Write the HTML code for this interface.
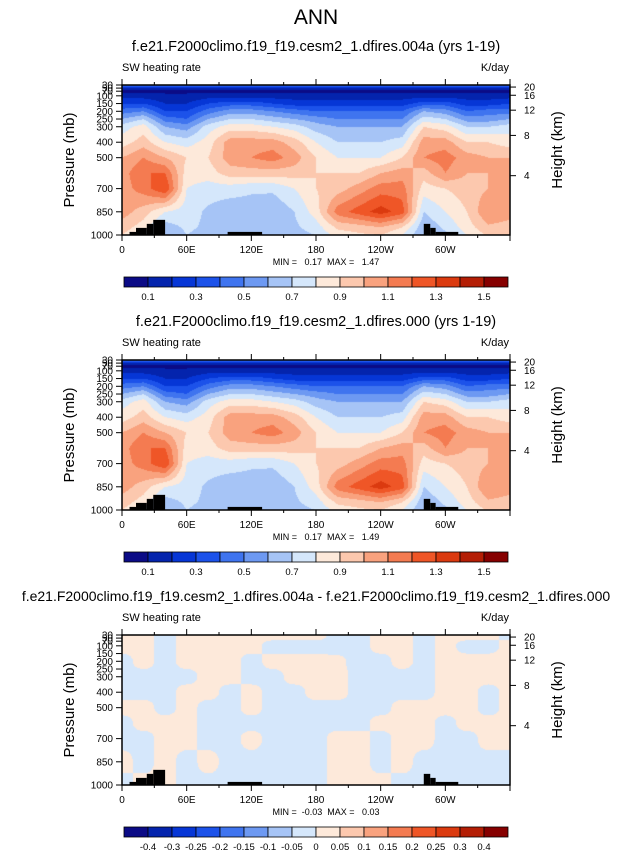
<!DOCTYPE html>
<html><head><meta charset="utf-8">
<style>
html,body{margin:0;padding:0;background:#fff;}
body{width:632px;height:851px;position:relative;overflow:hidden;font-family:"Liberation Sans",sans-serif;}
svg{position:absolute;left:0;top:0;}
canvas{position:absolute;}
text{white-space:pre;}
</style></head>
<body>
<canvas id="c0" width="388" height="150" style="left:122px;top:85px"></canvas>
<canvas id="c1" width="388" height="150" style="left:122px;top:360px"></canvas>
<canvas id="c2" width="388" height="150" style="left:122px;top:635px"></canvas>
<svg id="svg" width="632" height="851"></svg>
<script>
// ---- data ----
const lons = [0,20,40,60,80,100,120,140,160,180,200,220,240,260,280,300,320,340,360];
const plevs = [30,50,70,100,150,200,250,300,400,500,600,700,850,950,1000];
// columns per longitude: values at plevs (K/day)
const ctrlProfiles = [
 [0.45,0.15,0.08,0.15,0.30,0.45,0.60,0.75,0.85,1.00,1.05,1.05,1.05,0.95,0.90],
 [0.45,0.15,0.08,0.15,0.30,0.50,0.70,0.85,0.95,1.10,1.20,1.15,0.95,0.85,0.80],
 [0.45,0.15,0.08,0.12,0.20,0.30,0.45,0.60,0.80,1.00,1.20,1.30,0.80,0.65,0.60],
 [0.45,0.15,0.08,0.12,0.20,0.30,0.40,0.55,0.75,0.90,0.85,0.80,0.75,0.72,0.70],
 [0.45,0.15,0.08,0.15,0.30,0.45,0.60,0.75,0.85,0.90,0.85,0.75,0.68,0.68,0.66],
 [0.45,0.15,0.08,0.15,0.35,0.55,0.70,0.85,1.05,1.05,0.95,0.75,0.63,0.66,0.66],
 [0.45,0.15,0.08,0.15,0.35,0.55,0.70,0.85,1.05,1.10,0.95,0.72,0.64,0.68,0.68],
 [0.45,0.15,0.08,0.15,0.30,0.50,0.65,0.80,1.05,1.15,0.95,0.72,0.62,0.65,0.65],
 [0.45,0.15,0.08,0.15,0.25,0.45,0.60,0.75,0.95,1.05,0.95,0.80,0.70,0.68,0.66],
 [0.45,0.15,0.08,0.15,0.25,0.40,0.55,0.65,0.80,0.90,0.90,0.90,0.85,0.75,0.70],
 [0.45,0.15,0.08,0.15,0.25,0.40,0.50,0.60,0.70,0.80,0.90,0.95,1.15,0.92,0.85],
 [0.45,0.15,0.08,0.15,0.25,0.40,0.50,0.60,0.70,0.80,0.90,1.05,1.25,0.95,0.88],
 [0.45,0.15,0.08,0.15,0.25,0.40,0.50,0.60,0.70,0.80,1.00,1.15,1.35,1.00,0.90],
 [0.45,0.15,0.08,0.15,0.25,0.40,0.50,0.60,0.75,0.90,1.05,1.15,1.25,0.90,0.80],
 [0.45,0.15,0.08,0.15,0.35,0.60,0.75,0.90,1.05,1.10,0.95,0.85,0.70,0.62,0.60],
 [0.45,0.15,0.08,0.15,0.35,0.55,0.70,0.85,1.05,1.15,1.10,0.90,0.80,0.72,0.68],
 [0.45,0.15,0.08,0.15,0.25,0.40,0.55,0.70,0.90,1.05,1.00,0.95,0.90,0.85,0.80],
 [0.45,0.15,0.08,0.15,0.25,0.45,0.55,0.70,0.90,1.00,1.00,1.00,1.10,0.98,0.92],
 [0.45,0.15,0.08,0.15,0.30,0.45,0.60,0.75,0.85,1.00,1.05,1.05,1.05,0.95,0.90]
];
const diffPlevs = [30,100,200,300,400,500,600,700,850,1000];
// rows per pressure level: difference values (K/day) at lons
const diffRows = [
 [ .02, .02,-.02, .02, .02, .02, .02, .02, .02, .02,-.02,-.02, .02, .02,-.02, .02, .02, .02,-.02],
 [ .02, .02,-.02, .02, .02, .02, .02,-.02,-.02,-.02,-.02,-.02, .02, .02,-.02, .02,-.02,-.02, .02],
 [-.02, .02,-.02, .02, .02, .02,-.02, .02, .02, .02, .01,-.02,-.02, .02,-.02, .02, .02, .02, .02],
 [-.02,-.02,-.02,-.02, .02, .02,-.02,-.02, .02, .02, .02,-.02,-.02,-.02,-.02, .02, .02, .02, .02],
 [-.02,-.02,-.02, .02, .02,-.02, .02,-.02,-.02, .02, .02,-.02,-.02,-.02,-.02, .02, .02,-.02, .02],
 [ .02, .02,-.02, .02,-.02,-.02, .02,-.02,-.02,-.02,-.02,-.02,-.02, .02, .02, .02, .02,-.02, .02],
 [-.02, .02, .02, .02,-.02,-.02,-.02,-.02,-.02,-.02,-.02,-.02, .02, .02, .02,-.02, .02, .02, .02],
 [-.02,-.02, .02, .02,-.02,-.02, .02,-.02,-.02,-.02, .02, .02,-.02, .02, .02,-.02,-.02, .02, .02],
 [ .02,-.02, .02,-.02, .02,-.02,-.02,-.02,-.02,-.02, .02, .02,-.02, .02,-.02,-.02,-.02,-.02,-.02],
 [-.02, .02, .02,-.02,-.02,-.02,-.02,-.02,-.02,-.02, .02, .02, .02,-.02,-.02,-.02,-.02,-.02,-.02]
];
// topography blocks: [lonStart, lonEnd, surface pressure]
const topoStart = [7, 13, 23, 29, 98, 280, 286, 291];
const topoEnd   = [13,23, 29, 40, 130,286, 291, 312];
const topoPres  = [980,954,928,902,980,928,954,980];
const ctrlLevels = [0.1,0.2,0.3,0.4,0.5,0.6,0.7,0.8,0.9,1.0,1.1,1.2,1.3,1.4,1.5];
const ctrlLabels = ["0.1","0.3","0.5","0.7","0.9","1.1","1.3","1.5"];
const diffLevels = [-0.4,-0.3,-0.25,-0.2,-0.15,-0.1,-0.05,0,0.05,0.1,0.15,0.2,0.25,0.3,0.4];
const diffLabels = ["-0.4","-0.3","-0.25","-0.2","-0.15","-0.1","-0.05","0","0.05","0.1","0.15","0.2","0.25","0.3","0.4"];
const xTickLabels = ["0","60E","120E","180","120W","60W"];
const pTicks = [30,50,70,100,150,200,250,300,400,500,700,850,1000];
const hTicks = [4,8,12,16,20];
const palette = ["#0b0b86","#0424ad","#0636d6","#1c52ea","#3f74ef","#6d99f2","#a6c4f6","#d5e7fb","#fde9da","#fcc8ae","#f9a27e","#f47b51","#ef5627","#db3a0f","#b41e05","#860000"];

// ---- axes ----
const PX0=122, PW=388, PH=150;
const xOf = lon => PX0 + lon/360*PW;
const yOfP = (top,p) => top + (p-30)/970*PH;
const pOfH = z => 1013.25*Math.pow(1-2.25577e-5*z*1000,5.25588);

function interp(arr, v){
  for(let i=0;i<arr.length-1;i++){ if(v<=arr[i+1]) return [i,(v-arr[i])/(arr[i+1]-arr[i])]; }
  return [arr.length-2,1];
}
function colorIdx(levels,v){let k=0;while(k<levels.length&&v>=levels[k])k++;return k;}
const smooth = f => f*f*(3-2*f);

function drawField(cid, getVal, levels){
  const ctx=document.getElementById(cid).getContext('2d');
  for(let py=0;py<PH;py++){
    const p=30+(py+0.5)/PH*970;
    for(let px=0;px<PW;px++){
      const lon=(px+0.5)/PW*360;
      ctx.fillStyle=palette[colorIdx(levels,getVal(lon,p))];
      ctx.fillRect(px,py,1,1);
    }
  }
}
function ctrlVal(lon,p){
  const [i,fx]=interp(lons,lon), [j,fy]=interp(plevs,p);
  const a=ctrlProfiles[i][j],b=ctrlProfiles[i+1][j],c=ctrlProfiles[i][j+1],d=ctrlProfiles[i+1][j+1];
  return (a*(1-fx)+b*fx)*(1-fy)+(c*(1-fx)+d*fx)*fy;
}
function diffVal(lon,p){
  let [i,fx]=interp(lons,lon), [j,fy]=interp(diffPlevs,p);
  fx=smooth(fx); fy=smooth(fy);
  const a=diffRows[j][i],b=diffRows[j][i+1],c=diffRows[j+1][i],d=diffRows[j+1][i+1];
  return (a*(1-fx)+b*fx)*(1-fy)+(c*(1-fx)+d*fx)*fy;
}
drawField('c0',ctrlVal,ctrlLevels);
drawField('c1',ctrlVal,ctrlLevels);
drawField('c2',diffVal,diffLevels);

const svg=document.getElementById('svg');
const NS='http://www.w3.org/2000/svg';
function mk(tag,attrs,parent){const e=document.createElementNS(NS,tag);for(const k in attrs)e.setAttribute(k,attrs[k]);(parent||svg).appendChild(e);return e;}
function txt(s,attrs,parent){const e=mk('text',attrs,parent);e.textContent=s;return e;}

let t=txt('ANN',{x:316,y:24,'font-size':21,'text-anchor':'middle',fill:'#000'});



const titles=["f.e21.F2000climo.f19_f19.cesm2_1.dfires.004a (yrs 1-19)","f.e21.F2000climo.f19_f19.cesm2_1.dfires.000 (yrs 1-19)","f.e21.F2000climo.f19_f19.cesm2_1.dfires.004a - f.e21.F2000climo.f19_f19.cesm2_1.dfires.000"];
const minmax=["MIN =   0.17  MAX =   1.47","MIN =   0.17  MAX =   1.49","MIN =  -0.03  MAX =   0.03"];
const offs=[0,275,550];
for(let k=0;k<3;k++){
  const o=offs[k], top=85+o, bot=235+o;
  const g=mk('g',{});
  
  
  let e=txt(titles[k],{x:316,y:51+o,'font-size':k==2?14:14.5,'text-anchor':'middle'},g);
  
  
  e=txt('SW heating rate',{x:122,y:71+o,'font-size':11},g);
  
  
  e=txt('K/day',{x:509,y:71+o,'font-size':11,'text-anchor':'end'},g);
  
  
  for(let i=0;i<topoStart.length;i++){
    const y0=yOfP(top,topoPres[i]);
    e=mk('rect',{x:xOf(topoStart[i]),y:y0,width:xOf(topoEnd[i])-xOf(topoStart[i]),height:bot-y0,fill:'#000'},g);
    
    
  }
  e=mk('rect',{x:PX0,y:top,width:PW,height:PH,fill:'none',stroke:'#000','stroke-width':1.5},g);
  
  
  for(let lon=0;lon<=360;lon+=30){
    const x=xOf(lon), len=lon%60==0?6:3;
    mk('line',{x1:x,x2:x,y1:bot,y2:bot+len,stroke:'#000','stroke-width':1},g);
    mk('line',{x1:x,x2:x,y1:top,y2:top-len,stroke:'#000','stroke-width':1},g);
  }
  xTickLabels.forEach((s,i)=>{
    const e2=txt(s,{x:xOf(i*60),y:bot+18,'font-size':10,'text-anchor':'middle'},g);
    
    
  });
  e=txt(minmax[k],{x:326,y:bot+30,'font-size':9,'text-anchor':'middle'},g);
  
  
  pTicks.forEach(p=>{
    const y=yOfP(top,p);
    mk('line',{x1:PX0-6,x2:PX0,y1:y,y2:y,stroke:'#000','stroke-width':1},g);
    const e2=txt(String(p),{x:PX0-9,y:y+3.5,'font-size':10,'text-anchor':'end'},g);
    
    
  });
  e=txt('Pressure (mb)',{x:0,y:0,'font-size':15,'text-anchor':'middle',transform:`translate(74,${top+75}) rotate(-90)`},g);
  
  
  hTicks.forEach(h=>{
    const y=yOfP(top,pOfH(h));
    mk('line',{x1:PX0+PW,x2:PX0+PW+6,y1:y,y2:y,stroke:'#000','stroke-width':1},g);
    const e2=txt(String(h),{x:PX0+PW+14,y:y+3.5,'font-size':10},g);
    
    
  });
  e=txt('Height (km)',{x:0,y:0,'font-size':15,'text-anchor':'middle',transform:`translate(562,${top+65}) rotate(-90)`},g);
  
  
  const cb=mk('g',{},g);
  
  
  const cy=277+o, cx0=124, cw=24;
  for(let i=0;i<16;i++){
    const r=mk('rect',{x:cx0+i*cw,y:cy,width:cw,height:10,fill:palette[i],stroke:'#000','stroke-width':0.8},cb);
    
    
  }
  const labs=k<2?ctrlLabels:diffLabels, step=k<2?2:1;
  labs.forEach((s,i)=>{
    const e2=txt(s,{x:cx0+(1+i*step)*cw,y:cy+23,'font-size':9.5,'text-anchor':'middle'},cb);
    
    
  });
}
</script>
</body></html>
